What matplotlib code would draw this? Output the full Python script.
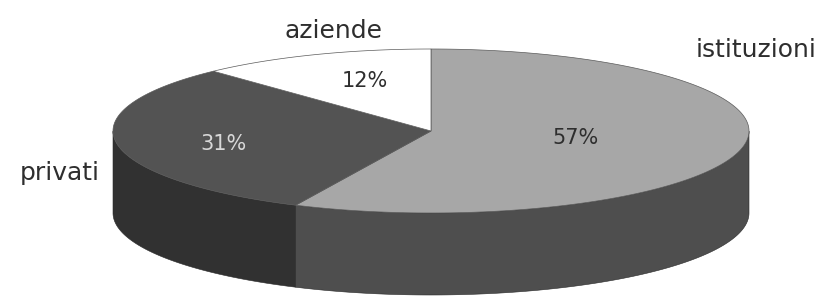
import numpy as np
import matplotlib
matplotlib.use("Agg")
import matplotlib.pyplot as plt
from matplotlib.patches import Polygon

categories = ["istituzioni", "privati", "aziende"]
values = [57, 31, 12]
pct_labels = ["57%", "31%", "12%"]

top_colors = ["#a7a7a7", "#535353", "#ffffff"]
side_colors = ["#4e4e4e", "#313131", "#dcdcdc"]
pct_colors = ["#2e2e2e", "#d8d8d8", "#2e2e2e"]
pct_pos = [(575, 138), (223, 144), (365, 81)]
name_pos = [(756, 57), (60, 180), (334, 38)]

W, H = 825, 298
fig = plt.figure(figsize=(W / 100, H / 100), dpi=100)
ax = fig.add_axes([0, 0, 1, 1])
ax.set_xlim(0, W)
ax.set_ylim(H, 0)
ax.axis("off")

cx, cy = 431, 131
rx, ry = 318, 82
depth = 82

total = sum(values)
start = 90.0
angles = []
for v in values:
    end = start - 360.0 * v / total
    angles.append((start, end))
    start = end

def ell(t, dy=0.0):
    r = np.radians(t)
    return cx + rx * np.cos(r), cy - ry * np.sin(r) + dy

# side faces
for i, (a, b) in enumerate(angles):
    ts = np.linspace(a, b, 600)
    lower = np.sin(np.radians(ts)) <= 0
    runs = []
    cur = []
    for t, ok in zip(ts, lower):
        if ok:
            cur.append(t)
        elif cur:
            runs.append(cur)
            cur = []
    if cur:
        runs.append(cur)
    for run in runs:
        run = np.array(run)
        xs, ys = ell(run)
        xb, yb = ell(run[::-1], depth)
        pts = np.column_stack([np.concatenate([xs, xb]), np.concatenate([ys, yb])])
        ax.add_patch(Polygon(pts, closed=True, facecolor=side_colors[i],
                             edgecolor="#2a2a2a", lw=0.4, zorder=1))

# top faces
for i, (a, b) in enumerate(angles):
    ts = np.linspace(a, b, 300)
    xs, ys = ell(ts)
    pts = np.column_stack([np.concatenate([[cx], xs]), np.concatenate([[cy], ys])])
    ax.add_patch(Polygon(pts, closed=True, facecolor=top_colors[i],
                         edgecolor="#5a5a5a", lw=0.5, zorder=2))

# percentage labels
for lab, (x, y), col in zip(pct_labels, pct_pos, pct_colors):
    ax.text(x, y, lab, ha="center", va="center", fontsize=15,
            color=col, family="DejaVu Sans", zorder=3)

# category labels
for name, (x, y) in zip(categories, name_pos):
    ax.text(x, y, name, ha="center", va="baseline", fontsize=18,
            color="#2e2e2e", family="DejaVu Sans", zorder=3)

fig.savefig("out.png", dpi=100)
